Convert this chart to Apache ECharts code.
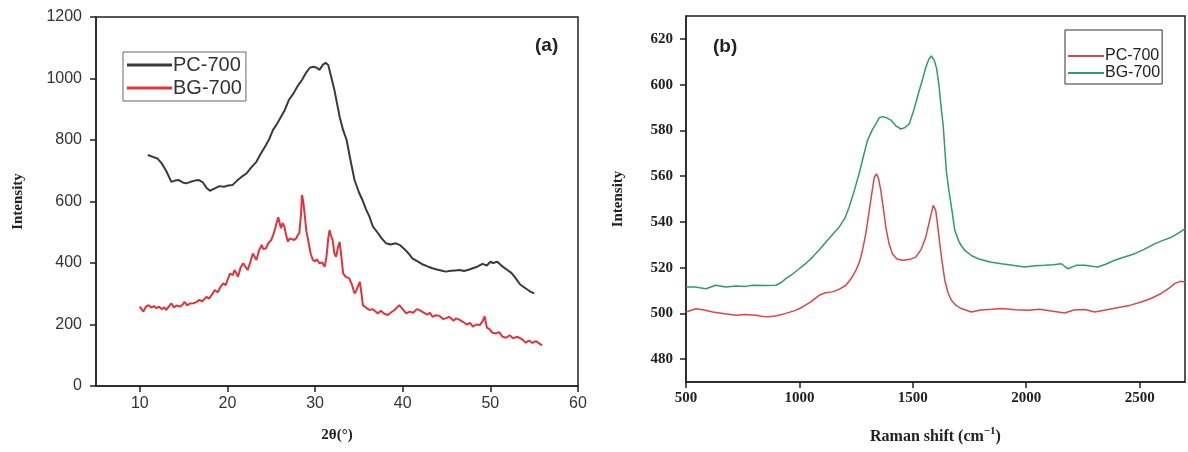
<!DOCTYPE html>
<html>
<head>
<meta charset="utf-8">
<script src="https://cdn.jsdelivr.net/npm/echarts@6/dist/echarts.min.js"></script>
<style>
html,body{margin:0;padding:0;background:#fff;}
#c{width:1188px;height:452px;}
</style>
</head>
<body>
<div id="c"></div>
<script>
// ---- Panel (a): XRD ----
const xTicksA = [10, 20, 30, 40, 50, 60];
const yTicksA = [0, 200, 400, 600, 800, 1000, 1200];
const pcA = [[10.9,751],[11.5,745],[12.0,740],[12.5,724],[13.0,700],[13.6,664],[14.0,668],[14.4,670],[14.9,662],[15.3,659],[15.8,664],[16.3,668],[16.7,670],[17.2,662],[17.6,645],[18.0,635],[18.5,642],[19.1,650],[19.6,648],[20.1,652],[20.6,654],[21.1,668],[21.6,680],[22.2,692],[22.7,710],[23.3,729],[23.8,755],[24.4,784],[24.8,805],[25.2,833],[25.6,850],[26.0,870],[26.5,895],[27.0,930],[27.5,950],[28.0,975],[28.5,995],[29.0,1020],[29.4,1035],[29.8,1038],[30.2,1035],[30.5,1028],[30.9,1045],[31.2,1051],[31.5,1044],[31.8,1010],[32.2,963],[32.8,876],[33.2,832],[33.6,800],[34.0,740],[34.5,670],[35.0,630],[35.4,605],[35.8,575],[36.2,551],[36.6,518],[37.1,500],[37.6,480],[38.1,464],[38.6,460],[39.2,464],[39.7,458],[40.2,445],[40.7,430],[41.1,415],[41.7,405],[42.3,395],[42.9,388],[43.4,383],[44.0,378],[44.5,375],[44.9,372],[45.5,375],[46.0,376],[46.5,377],[47.0,374],[47.5,378],[48.0,383],[48.5,388],[49.1,397],[49.6,392],[50.0,404],[50.3,400],[50.8,404],[51.4,388],[51.9,378],[52.4,368],[52.9,350],[53.4,330],[54.0,318],[54.5,308],[55.0,301]];
const bgA = [[10.0,258],[10.2,250],[10.4,242],[10.7,258],[11.0,263],[11.3,255],[11.6,260],[11.9,253],[12.2,258],[12.5,250],[12.8,256],[13.0,247],[13.3,258],[13.6,269],[13.9,255],[14.2,262],[14.6,258],[14.9,265],[15.1,274],[15.4,262],[15.7,268],[16.1,269],[16.4,272],[16.8,280],[17.1,275],[17.6,290],[17.9,284],[18.2,296],[18.55,312],[18.9,305],[19.2,322],[19.5,334],[19.8,328],[20.1,352],[20.3,366],[20.6,360],[20.8,377],[21.0,368],[21.2,355],[21.5,385],[21.8,399],[22.0,390],[22.3,377],[22.6,402],[22.9,431],[23.1,420],[23.3,410],[23.6,440],[23.9,459],[24.1,445],[24.4,448],[24.7,466],[25.0,475],[25.2,490],[25.4,507],[25.6,530],[25.8,549],[26.0,525],[26.1,513],[26.3,530],[26.5,518],[26.7,490],[26.9,469],[27.1,480],[27.3,486],[27.6,475],[27.85,480],[28.0,490],[28.2,497],[28.4,560],[28.5,621],[28.65,600],[28.8,561],[29.0,505],[29.2,475],[29.5,430],[29.75,410],[30.0,405],[30.2,412],[30.5,399],[30.8,402],[31.1,388],[31.3,420],[31.5,480],[31.65,507],[31.8,490],[32.0,475],[32.2,431],[32.4,420],[32.6,450],[32.8,469],[33.0,420],[33.2,366],[33.5,355],[33.7,360],[33.9,350],[34.2,330],[34.5,301],[34.7,310],[34.9,325],[35.1,339],[35.3,300],[35.45,263],[35.8,255],[36.2,247],[36.6,250],[37.15,236],[37.5,245],[37.9,235],[38.3,231],[38.7,240],[39.1,248],[39.6,263],[40.0,250],[40.4,236],[40.8,242],[41.2,238],[41.6,250],[41.9,247],[42.3,240],[42.8,232],[43.1,238],[43.4,225],[43.8,230],[44.2,228],[44.6,218],[44.9,220],[45.3,225],[45.8,212],[46.1,220],[46.5,215],[46.9,208],[47.3,200],[47.7,205],[48.0,193],[48.4,200],[48.8,198],[49.1,210],[49.35,226],[49.6,190],[49.9,185],[50.25,173],[50.6,171],[51.0,175],[51.4,160],[51.8,157],[52.2,165],[52.6,155],[53.0,160],[53.3,157],[53.7,150],[54.05,141],[54.4,148],[54.8,140],[55.2,146],[55.6,138],[55.9,132]];

// ---- Panel (b): Raman ----
const xTicksB = [500, 1000, 1500, 2000, 2500];
const yTicksB = [480, 500, 520, 540, 560, 580, 600, 620];
const pcB = [[500,500.6],[544,502],[580,501.5],[618,500.6],[670,499.8],[720,499.2],[760,499.5],[808,499.2],[840,498.6],[867,498.5],[900,499],[940,500],[980,501.2],[1014,502.8],[1050,505],[1087,507.9],[1115,509],[1146,509.4],[1175,510.5],[1205,512.3],[1230,515.5],[1249,518.8],[1265,522.5],[1278,527.5],[1293,535],[1308,545],[1320,553],[1330,559.5],[1340,561],[1350,558.5],[1359,553.7],[1370,546],[1381,537.7],[1395,530.5],[1410,526.1],[1430,523.8],[1454,523.2],[1485,523.5],[1513,524.6],[1537,528],[1557,533.3],[1575,541],[1590,547.2],[1601,545],[1610,538],[1619,530.4],[1630,522],[1641,514.5],[1655,509],[1670,505.7],[1690,503.5],[1714,502.1],[1758,500.6],[1800,501.5],[1850,501.8],[1891,502.1],[1950,501.6],[2008,501.4],[2060,501.8],[2110,501],[2170,500.2],[2210,501.5],[2258,501.7],[2302,500.6],[2350,501.5],[2419,502.8],[2460,503.6],[2507,505],[2550,506.5],[2595,508.7],[2630,511],[2654,513],[2680,514],[2700,513.7]];
const bgB = [[500,511.5],[540,511.5],[588,510.8],[632,512.3],[676,511.5],[720,512],[760,511.8],[794,512.3],[850,512.2],[896,512.3],[920,513.5],[940,515.2],[970,517.2],[999,519.5],[1030,522],[1058,524.6],[1090,528],[1117,531.2],[1146,534.5],[1175,537.7],[1200,541.5],[1219,546.4],[1240,553],[1263,561],[1283,569],[1300,575.5],[1320,580],[1337,582.8],[1352,585.5],[1366,586],[1385,585.5],[1403,584.5],[1425,582],[1447,580.6],[1465,581.2],[1484,582.8],[1505,589],[1528,597.3],[1545,603],[1557,607.5],[1570,611],[1582,612.5],[1595,610.5],[1605,607],[1615,600],[1625,590],[1634,582],[1648,562],[1660,553],[1671,546],[1685,536.3],[1705,531],[1729,527.5],[1760,525.2],[1788,523.9],[1840,522.5],[1891,521.7],[1940,521],[1993,520.3],[2040,520.8],[2081,521],[2120,521.3],[2155,521.7],[2170,520.5],[2184,519.5],[2220,521],[2258,521],[2290,520.6],[2316,520.3],[2350,521.5],[2390,523.2],[2430,524.5],[2478,526.1],[2520,528],[2566,530.4],[2600,531.8],[2640,533.3],[2670,535],[2700,537]];

const SANS = 'Liberation Sans, Arial, sans-serif';
const SERIF = 'Liberation Serif, Times New Roman, serif';
const AX = '#222';
const plain = v => String(v);

const chart = echarts.init(document.getElementById('c'), null, {renderer: 'canvas'});
const stripName = n => n.split('|')[0];

chart.setOption({
  backgroundColor: '#fff',
  animation: false,
  title: [
    {text: '(a)', left: 530, top: 31, textStyle: {fontFamily: SANS, fontWeight: 'bold', fontSize: 19, color: '#222'}},
    {text: '(b)', left: 708, top: 32, textStyle: {fontFamily: SANS, fontWeight: 'bold', fontSize: 19, color: '#222'}}
  ],
  legend: [
    {
      data: ['PC-700|a', 'BG-700|a'], left: 123, top: 52, orient: 'vertical',
      formatter: stripName, icon: 'rect', itemWidth: 45, itemHeight: 3, itemGap: 3,
      padding: [3, 4, 3, 4], borderColor: '#666', borderWidth: 1,
      textStyle: {fontFamily: SANS, fontSize: 20, color: '#333', padding: [0, 0, 0, -4]},
      selectedMode: false
    },
    {
      data: ['PC-700|b', 'BG-700|b'], left: 1065, top: 30, orient: 'vertical',
      formatter: stripName, icon: 'rect', itemWidth: 36, itemHeight: 2, itemGap: 1,
      padding: [18, 2, 3, 3], borderColor: '#333', borderWidth: 1,
      textStyle: {fontFamily: SANS, fontSize: 16, color: '#222', padding: [0, 0, 0, -4]},
      selectedMode: false
    }
  ],
  grid: [
    {left: 96, top: 17, width: 482, height: 369, show: true, borderColor: AX, borderWidth: 1.5, backgroundColor: 'transparent'},
    {left: 686, top: 16, width: 499, height: 366, show: true, borderColor: AX, borderWidth: 1.5, backgroundColor: 'transparent'}
  ],
  xAxis: [
    {
      gridIndex: 0, type: 'value', min: 5, max: 60,
      name: '2θ(°)', nameLocation: 'middle', nameGap: 42,
      nameTextStyle: {fontFamily: SERIF, fontWeight: 'bold', fontSize: 15, color: '#222'},
      axisLine: {lineStyle: {color: AX, width: 1.5}},
      axisTick: {customValues: xTicksA, length: 6, lineStyle: {color: AX, width: 1.5}},
      axisLabel: {customValues: xTicksA, formatter: plain, margin: 10, fontFamily: SANS, fontSize: 16, color: '#333'},
      splitLine: {show: false}
    },
    {
      gridIndex: 1, type: 'value', min: 500, max: 2700,
      name: 'Raman shift (cm{sup|−1})', nameLocation: 'middle', nameGap: 44,
      nameTextStyle: {fontFamily: SERIF, fontWeight: 'bold', fontSize: 16, color: '#222',
        rich: {sup: {fontFamily: SERIF, fontWeight: 'bold', fontSize: 11, color: '#222', padding: [0, 0, 10, 0]}}},
      axisLine: {lineStyle: {color: AX, width: 1.5}},
      axisTick: {customValues: xTicksB, length: 6, lineStyle: {color: AX, width: 1.5}},
      axisLabel: {customValues: xTicksB, formatter: plain, margin: 9, fontFamily: SERIF, fontWeight: 'bold', fontSize: 15, color: '#222'},
      splitLine: {show: false}
    }
  ],
  yAxis: [
    {
      gridIndex: 0, type: 'value', min: 0, max: 1200, interval: 200,
      name: 'Intensity', nameLocation: 'middle', nameGap: 70,
      nameTextStyle: {fontFamily: SERIF, fontWeight: 'bold', fontSize: 15, color: '#222'},
      axisLine: {show: true, lineStyle: {color: AX, width: 1.5}},
      axisTick: {show: true, customValues: yTicksA, length: 6, lineStyle: {color: AX, width: 1.5}},
      axisLabel: {customValues: yTicksA, formatter: plain, margin: 14, fontFamily: SANS, fontSize: 16, color: '#333'},
      splitLine: {show: false}
    },
    {
      gridIndex: 1, type: 'value', min: 470, max: 630,
      name: 'Intensity', nameLocation: 'middle', nameGap: 60,
      nameTextStyle: {fontFamily: SERIF, fontWeight: 'bold', fontSize: 15, color: '#222'},
      axisLine: {show: true, lineStyle: {color: AX, width: 1.5}},
      axisTick: {show: true, customValues: yTicksB, length: 6, lineStyle: {color: AX, width: 1.5}},
      axisLabel: {customValues: yTicksB, formatter: plain, margin: 13, fontFamily: SERIF, fontWeight: 'bold', fontSize: 15, color: '#222'},
      splitLine: {show: false}
    }
  ],
  series: [
    {name: 'PC-700|a', type: 'line', xAxisIndex: 0, yAxisIndex: 0, data: pcA, showSymbol: false, symbol: 'none',
      lineStyle: {color: '#3a3a3a', width: 2}, itemStyle: {color: '#3a3a3a'}},
    {name: 'BG-700|a', type: 'line', xAxisIndex: 0, yAxisIndex: 0, data: bgA, showSymbol: false, symbol: 'none',
      lineStyle: {color: '#e0333a', width: 2}, itemStyle: {color: '#e0333a'}},
    {name: 'PC-700|b', type: 'line', xAxisIndex: 1, yAxisIndex: 1, data: pcB, showSymbol: false, symbol: 'none',
      lineStyle: {color: '#d8474c', width: 1.5}, itemStyle: {color: '#d8474c'}},
    {name: 'BG-700|b', type: 'line', xAxisIndex: 1, yAxisIndex: 1, data: bgB, showSymbol: false, symbol: 'none',
      lineStyle: {color: '#2f9a6c', width: 1.5}, itemStyle: {color: '#2f9a6c'}}
  ]
});
</script>
</body>
</html>
